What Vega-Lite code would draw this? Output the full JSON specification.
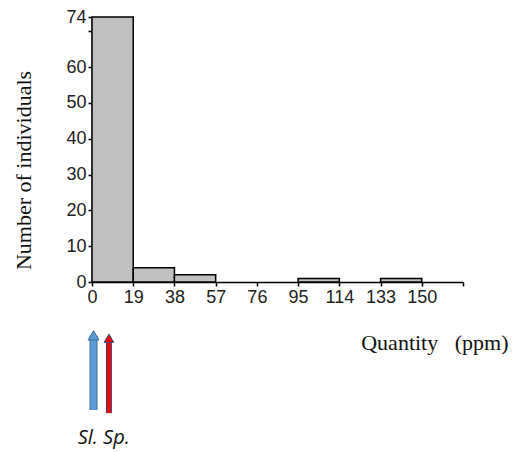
{
  "$schema": "https://vega.github.io/schema/vega-lite/v6.json",
  "autosize": "none",
  "width": 371,
  "height": 265,
  "padding": {"left": 92, "top": 17, "right": 51, "bottom": 170},
  "background": "white",
  "config": {"view": {"stroke": null}, "axis": {"labelOverlap": false}},
  "datasets": {
    "bins": [
      {"x": 0, "x_end": 19, "y": 74},
      {"x": 19, "x_end": 38, "y": 4},
      {"x": 38, "x_end": 57, "y": 2},
      {"x": 57, "x_end": 76, "y": 0},
      {"x": 76, "x_end": 95, "y": 0},
      {"x": 95, "x_end": 114, "y": 1},
      {"x": 114, "x_end": 133, "y": 0},
      {"x": 133, "x_end": 152, "y": 1}
    ],
    "arrows": [
      {"species": "Sl", "x": 0.7, "y": -35.7, "y_top": -15.0},
      {"species": "Sp", "x": 7.8, "y": -36.6, "y_top": -15.8}
    ],
    "heads": [
      {"species": "Sl", "x": 0.7, "y": -14.9},
      {"species": "Sp", "x": 7.8, "y": -15.7}
    ],
    "labels": [
      {"label": "Sl. Sp.", "x": 5.4, "y": -43.6}
    ]
  },
  "encoding": {
    "x": {
      "field": "x", "type": "quantitative",
      "scale": {"domain": [0, 171], "nice": false, "zero": false, "padding": 0},
      "axis": {
        "values": [0, 19, 38, 57, 76, 95, 114, 133, 152, 171],
        "labelExpr": "datum.value == 152 ? '150' : (datum.value == 171 ? '' : datum.label)",
        "grid": false,
        "domainColor": "#000000", "domainWidth": 1.5,
        "tickColor": "#000000", "tickWidth": 1.5, "tickSize": 4,
        "labelFont": "Liberation Sans", "labelFontSize": 18, "labelColor": "#222222",
        "labelPadding": 2, "labelFlush": false, "labelOverlap": false,
        "title": "Quantity\u00a0\u00a0 (ppm)",
        "titleFont": "Liberation Serif", "titleFontSize": 22, "titleFontWeight": "normal",
        "titleColor": "#111111",
        "titleX": 416, "titleY": 60, "titleAlign": "right", "titleBaseline": "middle"
      }
    },
    "y": {
      "field": "y", "type": "quantitative",
      "scale": {"domain": [0, 74], "nice": false, "padding": 0},
      "axis": {
        "values": [0, 10, 20, 30, 40, 50, 60, 70, 74],
        "labelExpr": "datum.value == 70 ? '' : datum.label",
        "grid": false,
        "domainColor": "#000000", "domainWidth": 1.5,
        "tickColor": "#000000", "tickWidth": 1.5, "tickSize": 4,
        "labelFont": "Liberation Sans", "labelFontSize": 18, "labelColor": "#222222",
        "labelPadding": 2, "labelOverlap": false,
        "title": "Number of individuals",
        "titleFont": "Liberation Serif", "titleFontSize": 22, "titleFontWeight": "normal",
        "titleColor": "#111111",
        "titleX": -69, "titleY": 153, "titleAlign": "center", "titleBaseline": "middle", "titleAngle": -90
      }
    }
  },
  "layer": [
    {
      "data": {"name": "bins"},
      "transform": [{"filter": "datum.y > 0"}],
      "mark": {"type": "bar", "fill": "#c0c0c0", "stroke": "#000000", "strokeWidth": 1.5},
      "encoding": {"x2": {"field": "x_end"}, "y2": {"datum": 0}}
    },
    {
      "data": {"name": "arrows"},
      "transform": [{"filter": "datum.species == 'Sl'"}],
      "mark": {"type": "rule", "stroke": "#41719c", "strokeWidth": 8},
      "encoding": {"y2": {"field": "y_top"}}
    },
    {
      "data": {"name": "arrows"},
      "transform": [{"filter": "datum.species == 'Sl'"}],
      "mark": {"type": "rule", "stroke": "#5b9bd5", "strokeWidth": 6},
      "encoding": {"y2": {"field": "y_top"}}
    },
    {
      "data": {"name": "heads"},
      "transform": [{"filter": "datum.species == 'Sl'"}],
      "mark": {"type": "point", "shape": "triangle-up", "filled": true, "fill": "#5b9bd5", "stroke": "#41719c", "strokeWidth": 1, "size": 120, "opacity": 1}
    },
    {
      "data": {"name": "arrows"},
      "transform": [{"filter": "datum.species == 'Sp'"}],
      "mark": {"type": "rule", "stroke": "#2e4a7a", "strokeWidth": 6},
      "encoding": {"y2": {"field": "y_top"}}
    },
    {
      "data": {"name": "arrows"},
      "transform": [{"filter": "datum.species == 'Sp'"}],
      "mark": {"type": "rule", "stroke": "#ff0000", "strokeWidth": 4},
      "encoding": {"y2": {"field": "y_top"}}
    },
    {
      "data": {"name": "heads"},
      "transform": [{"filter": "datum.species == 'Sp'"}],
      "mark": {"type": "point", "shape": "triangle-up", "filled": true, "fill": "#ff0000", "stroke": "#2e4a7a", "strokeWidth": 1, "size": 90, "opacity": 1}
    },
    {
      "data": {"name": "labels"},
      "mark": {"type": "text", "font": "Open Sans", "fontStyle": "italic", "fontSize": 20, "color": "#111111", "align": "center", "baseline": "middle"},
      "encoding": {"text": {"field": "label"}}
    }
  ]
}
